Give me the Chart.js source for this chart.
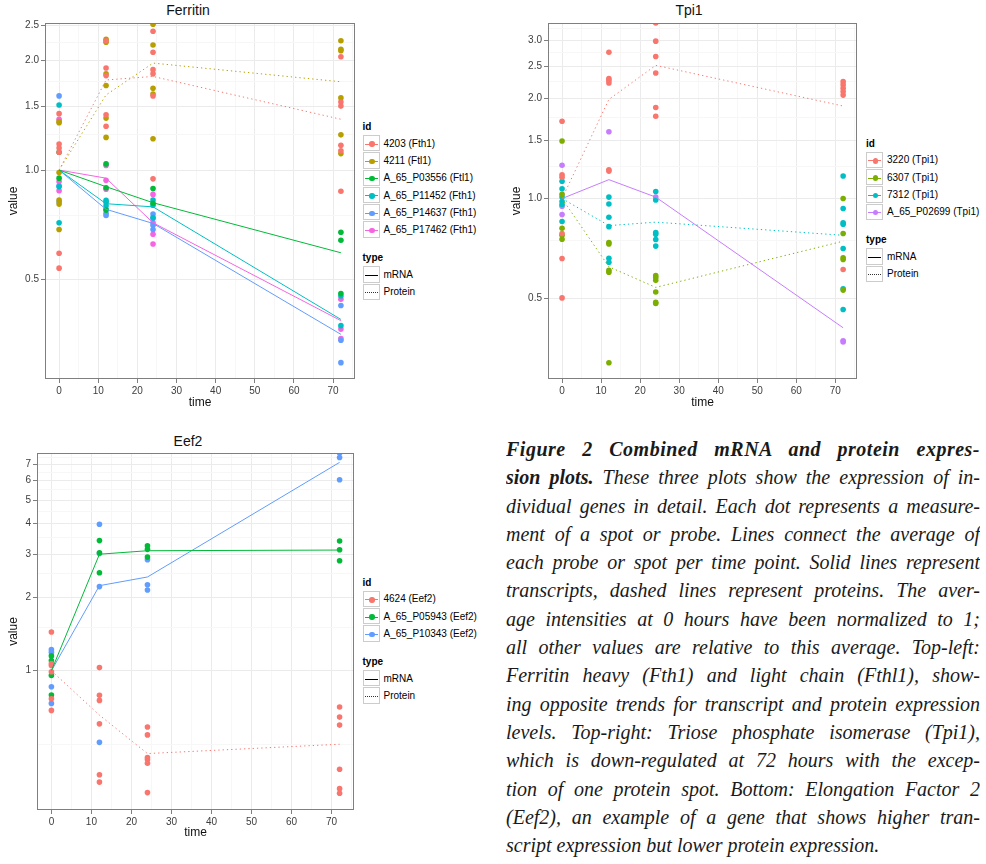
<!DOCTYPE html>
<html>
<head>
<meta charset="utf-8">
<script src="https://cdn.jsdelivr.net/npm/chart.js@4.4.1/dist/chart.umd.min.js"></script>
<style>
  body { margin: 0; background: #fff; width: 986px; height: 864px; position: relative; overflow: hidden; }
  canvas, .ptitle, .legend, .caption { position: absolute; }
  .ptitle { font: normal 14px "Liberation Sans", Arial, sans-serif; color: #111; transform: translateX(-50%); white-space: nowrap; }
  .legend { font: 10px "Liberation Sans", Arial, sans-serif; color: #000; }
  .legend .lt { font-weight: bold; height: 14.7px; line-height: 14.7px; }
  .legend .row { height: 17.3px; display: flex; align-items: center; }
  .legend .gap { height: 12.8px; }
  .legend .key { width: 17px; height: 16.3px; border: 0.5px solid #cccccc; position: relative; margin-right: 4px; box-sizing: border-box; background: #fff; }
  .legend .key .ln { position: absolute; left: 1px; right: 1px; top: 7.6px; height: 0; border-top: 1px solid; }
  .legend .key .dt { position: absolute; left: 5.8px; top: 5.4px; width: 5.4px; height: 5.4px; border-radius: 50%; }
  .caption { left: 506px; top: 435px; width: 474px; font: italic 20px "Liberation Serif", "Times New Roman", serif; color: #1a1a1a; line-height: 28.3px; }
  .caption div { text-align: justify; text-align-last: justify; height: 28.3px; overflow: hidden; }
  .caption div.last { text-align-last: left; }
  .caption div.first { letter-spacing: 0.5px; }
  .caption b { font-weight: bold; }
</style>
</head>
<body>
<div class="ptitle" style="left:188px; top:2px;">Ferritin</div>
<div class="ptitle" style="left:689px; top:2px;">Tpi1</div>
<div class="ptitle" style="left:188px; top:433px;">Eef2</div>
<canvas id="ferritin" width="360" height="410" style="left:0; top:0;"></canvas>
<canvas id="tpi1" width="360" height="410" style="left:500px; top:0;"></canvas>
<canvas id="eef2" width="360" height="410" style="left:0; top:430px;"></canvas>
<div class="legend" id="legFer" style="left:362.5px; top:119.8px;"></div>
<div class="legend" id="legTpi" style="left:866px; top:136.6px;"></div>
<div class="legend" id="legEef" style="left:362.5px; top:575.6px;"></div>

<div class="caption">
  <div class="first"><b>Figure 2 Combined mRNA and protein expres-</b></div>
  <div><b>sion plots.</b> These three plots show the expression of in-</div>
  <div>dividual genes in detail. Each dot represents a measure-</div>
  <div>ment of a spot or probe. Lines connect the average of</div>
  <div>each probe or spot per time point. Solid lines represent</div>
  <div>transcripts, dashed lines represent proteins. The aver-</div>
  <div>age intensities at 0 hours have been normalized to 1;</div>
  <div>all other values are relative to this average. Top-left:</div>
  <div>Ferritin heavy (Fth1) and light chain (Fthl1), show-</div>
  <div>ing opposite trends for transcript and protein expression</div>
  <div>levels. Top-right: Triose phosphate isomerase (Tpi1),</div>
  <div>which is down-regulated at 72 hours with the excep-</div>
  <div>tion of one protein spot. Bottom: Elongation Factor 2</div>
  <div>(Eef2), an example of a gene that shows higher tran-</div>
  <div class="last">script expression but lower protein expression.</div>
</div>

<script>
// time points (hours)
var times = [0, 12, 24, 72];

// ---- Ferritin ----
var ferIds = ['4203 (Fth1)', '4211 (Ftl1)', 'A_65_P03556 (Ftl1)', 'A_65_P11452 (Fth1)', 'A_65_P14637 (Fth1)', 'A_65_P17462 (Fth1)'];
var ferTypes = ['Protein', 'Protein', 'mRNA', 'mRNA', 'mRNA', 'mRNA'];
// measurements per id, one list per time point
var fer4203 = [[1.43, 1.18, 1.15, 1.12, 0.59, 0.537], [2.27, 1.91, 1.82, 1.42, 1.32], [2.41, 2.11, 1.89, 1.84, 1.60, 0.946], [2.05, 1.54, 1.50, 1.17, 1.13, 0.874]];
var fer4211 = [[1.36, 1.35, 0.985, 0.827, 0.806, 0.686], [2.29, 2.25, 1.84, 1.71, 1.39, 1.23], [2.52, 2.21, 1.68, 1.62, 1.22], [2.27, 2.15, 2.13, 1.58, 1.25, 1.11]];
var ferP03556 = [[1.12, 0.95], [1.04, 0.894, 0.776], [0.89, 0.81], [0.674, 0.641, 0.457]];
var ferP11452 = [[1.51, 0.90, 0.716], [0.825, 0.815, 0.797], [0.827, 0.80, 0.74], [0.45, 0.373]];
var ferP14637 = [[1.60, 0.905, 0.818], [0.78, 0.76, 0.75], [0.757, 0.736, 0.705, 0.686], [0.424, 0.34, 0.295]];
var ferP17462 = [[1.38, 0.93, 0.877], [1.03, 0.937, 0.886], [0.857, 0.716, 0.666, 0.626], [0.441, 0.365, 0.344]];
// averages per time point
var ferMean4203 = [1, 1.77, 1.81, 1.38];
var ferMean4211 = [1, 1.61, 1.97, 1.75];
var ferMeanP03556 = [1, 0.90, 0.813, 0.592];
var ferMeanP11452 = [1, 0.808, 0.792, 0.388];
var ferMeanP14637 = [1, 0.78, 0.713, 0.353];
var ferMeanP17462 = [1, 0.95, 0.716, 0.385];
var ferYMajor = [0.5, 1.0, 1.5, 2.0, 2.5];
var ferYMinor = [0.75, 1.25, 1.75, 2.25];

// ---- Tpi1 ----
var tpiIds = ['3220 (Tpi1)', '6307 (Tpi1)', '7312 (Tpi1)', 'A_65_P02699 (Tpi1)'];
var tpiTypes = ['Protein', 'Protein', 'Protein', 'mRNA'];
var tpi3220 = [[1.71, 1.18, 1.16, 0.785, 0.66, 0.502], [2.76, 2.30, 2.27, 2.23, 1.22, 1.21], [3.38, 2.98, 2.68, 2.39, 1.88, 1.77], [2.25, 2.20, 2.15, 2.10, 2.05, 0.611]];
var tpi6307 = [[1.49, 1.03, 0.814, 0.775, 0.754], [0.737, 0.73, 0.608, 0.60, 0.32], [0.586, 0.578, 0.567, 0.523, 0.487, 0.483], [1.0, 0.785, 0.663, 0.655, 0.53]];
var tpi7312 = [[1.127, 1.07, 1.01, 0.98, 0.96, 0.853], [1.01, 0.963, 0.878, 0.823, 0.661, 0.643], [1.05, 0.99, 0.79, 0.78, 0.753, 0.719], [1.17, 0.933, 0.845, 0.837, 0.707, 0.535, 0.463]];
var tpiP02699 = [[1.26, 0.948, 0.895], [1.59], [1.01], [0.373, 0.37]];
var tpiMean3220 = [1, 1.99, 2.52, 1.90];
var tpiMean6307 = [1, 0.623, 0.54, 0.744];
var tpiMean7312 = [1, 0.829, 0.849, 0.775];
var tpiMeanP02699 = [1, 1.14, 1.01, 0.408];
var tpiYMajor = [0.5, 1.0, 1.5, 2.0, 2.5, 3.0];
var tpiYMinor = [0.75, 1.25, 1.75, 2.25, 2.75, 3.25];

// ---- Eef2 ----
var eefIds = ['4624 (Eef2)', 'A_65_P05943 (Eef2)', 'A_65_P10343 (Eef2)'];
var eefTypes = ['Protein', 'mRNA', 'mRNA'];
var eef4624 = [[1.44, 1.07, 1.05, 0.99, 0.768, 0.688], [1.03, 0.793, 0.756, 0.606, 0.375, 0.35], [0.588, 0.546, 0.441, 0.433, 0.418, 0.317], [0.71, 0.646, 0.599, 0.395, 0.329, 0.315]];
var eefP05943 = [[1.15, 1.10, 0.957, 0.795], [3.41, 3.04, 2.52], [3.25, 3.14, 2.92], [3.40, 3.13, 2.82]];
var eefP10343 = [[1.22, 1.19, 0.86, 0.735], [3.98, 3.02, 2.21, 0.509], [2.85, 2.25, 2.14], [7.79, 7.47, 6.05]];
var eefMean4624 = [1, 0.658, 0.458, 0.50];
var eefMeanP05943 = [1, 3.0, 3.10, 3.12];
var eefMeanP10343 = [1, 2.23, 2.42, 7.13];
var eefYMajor = [1, 2, 3, 4, 5, 6, 7];
var eefYMinor = [0.5, 1.5, 2.5, 3.5, 4.5, 5.5, 6.5, 7.5];

var xMajor = [0, 10, 20, 30, 40, 50, 60, 70];
var xMinor = [5, 15, 25, 35, 45, 55, 65, 75];

// ggplot hue palettes
var hue6 = ['#F8766D', '#B79F00', '#00BA38', '#00BFC4', '#619CFF', '#F564E3'];
var hue4 = ['#F8766D', '#7CAE00', '#00BFC4', '#C77CFF'];
var hue3 = ['#F8766D', '#00BA38', '#619CFF'];

var tickFont = { family: 'Liberation Sans, Arial, sans-serif', size: 10 };
var axisFont = { family: 'Liberation Sans, Arial, sans-serif', size: 12 };

var panelBorder = {
  id: 'panelBorder',
  afterDraw: function(chart) {
    var a = chart.chartArea, c = chart.ctx;
    c.save();
    c.strokeStyle = '#7f7f7f';
    c.lineWidth = 1;
    c.strokeRect(Math.round(a.left) + 0.5, Math.round(a.top) + 0.5, Math.round(a.right - a.left) - 1, Math.round(a.bottom - a.top) - 1);
    c.restore();
  }
};

function makePanel(canvasId, p) {
  var datasets = [];
  p.points.forEach(function(series, i) {
    var pts = [];
    series.forEach(function(vals, j) {
      vals.forEach(function(v) { pts.push({ x: times[j], y: v }); });
    });
    datasets.push({
      data: pts, showLine: false, pointRadius: 2.8, pointHoverRadius: 2.8,
      pointBorderWidth: 0, backgroundColor: p.colors[i], borderColor: p.colors[i], order: 2
    });
  });
  p.means.forEach(function(m, i) {
    datasets.push({
      data: m.map(function(v, j) { return { x: times[j], y: v }; }),
      showLine: true, pointRadius: 0, borderWidth: 1, tension: 0, fill: false,
      borderColor: p.colors[i], borderDash: p.types[i] === 'Protein' ? [1.3, 3] : [],
      order: 1
    });
  });

  var yAll = p.yMajor.concat(p.yMinor);
  var xAll = xMajor.concat(xMinor);

  return new Chart(document.getElementById(canvasId), {
    type: 'scatter',
    data: { datasets: datasets },
    plugins: [panelBorder],
    options: {
      responsive: false,
      animation: false,
      devicePixelRatio: 1,
      layout: { padding: { top: p.padTop, right: p.padRight, left: 0, bottom: 0 } },
      plugins: { legend: { display: false }, tooltip: { enabled: false }, title: { display: false } },
      scales: {
        x: {
          type: 'linear', min: -3.6, max: 75.6,
          afterBuildTicks: function(s) { s.ticks = xAll.map(function(v) { return { value: v }; }); },
          afterFit: function(s) { s.height = p.xAxisH; },
          ticks: {
            autoSkip: false, maxRotation: 0, padding: 2, color: '#3d3d3d', font: tickFont,
            callback: function(v) { return xMajor.indexOf(v) >= 0 ? String(v) : ''; }
          },
          grid: {
            lineWidth: 1, tickLength: 4,
            color: function(ctx) { return xMajor.indexOf(ctx.tick.value) >= 0 ? '#ebebeb' : '#f7f7f7'; },
            tickColor: function(ctx) { return xMajor.indexOf(ctx.tick.value) >= 0 ? '#7f7f7f' : 'rgba(0,0,0,0)'; }
          },
          border: { display: false },
          title: { display: true, text: 'time', color: '#111', font: axisFont, padding: { top: 0, bottom: 0 } }
        },
        y: {
          type: 'logarithmic', min: p.yMin, max: p.yMax,
          afterBuildTicks: function(s) { s.ticks = yAll.map(function(v) { return { value: v }; }); },
          afterFit: function(s) { s.width = p.yAxisW; },
          ticks: {
            autoSkip: false, padding: 2, color: '#3d3d3d', font: tickFont,
            callback: function(v) { return p.yMajor.indexOf(v) >= 0 ? p.yFmt(v) : ''; }
          },
          grid: {
            lineWidth: 1, tickLength: 4,
            color: function(ctx) { return p.yMajor.indexOf(ctx.tick.value) >= 0 ? '#ebebeb' : '#f7f7f7'; },
            tickColor: function(ctx) { return p.yMajor.indexOf(ctx.tick.value) >= 0 ? '#7f7f7f' : 'rgba(0,0,0,0)'; }
          },
          border: { display: false },
          title: { display: true, text: 'value', color: '#111', font: axisFont, padding: { top: p.yTitlePad, bottom: 0 } }
        }
      }
    }
  });
}

function makeLegend(elId, ids, colors) {
  var h = '<div class="lt">id</div>';
  ids.forEach(function(id, i) {
    h += '<div class="row"><div class="key"><div class="ln" style="border-top-color:' + colors[i] + '"></div>' +
         '<div class="dt" style="background:' + colors[i] + '"></div></div>' + id + '</div>';
  });
  h += '<div class="gap"></div><div class="lt">type</div>';
  h += '<div class="row"><div class="key"><div class="ln" style="border-top:1px solid #000"></div></div>mRNA</div>';
  h += '<div class="row"><div class="key"><div class="ln" style="border-top:1px dotted #333"></div></div>Protein</div>';
  document.getElementById(elId).innerHTML = h;
}

function fmt1(v) { return v.toFixed(1); }
function fmt0(v) { return String(v); }

makePanel('ferritin', {
  points: [fer4203, fer4211, ferP03556, ferP11452, ferP14637, ferP17462],
  means: [ferMean4203, ferMean4211, ferMeanP03556, ferMeanP11452, ferMeanP14637, ferMeanP17462],
  types: ferTypes, colors: hue6,
  yMin: 0.266, yMax: 2.54, yMajor: ferYMajor, yMinor: ferYMinor, yFmt: fmt1,
  padTop: 23, padRight: 5, yAxisW: 45, xAxisH: 31, yTitlePad: 6
});
makePanel('tpi1', {
  points: [tpi3220, tpi6307, tpi7312, tpiP02699],
  means: [tpiMean3220, tpiMean6307, tpiMean7312, tpiMeanP02699],
  types: tpiTypes, colors: hue4,
  yMin: 0.286, yMax: 3.38, yMajor: tpiYMajor, yMinor: tpiYMinor, yFmt: fmt1,
  padTop: 23, padRight: 2, yAxisW: 48, xAxisH: 31, yTitlePad: 9
});
makePanel('eef2', {
  points: [eef4624, eefP05943, eefP10343],
  means: [eefMean4624, eefMeanP05943, eefMeanP10343],
  types: eefTypes, colors: hue3,
  yMin: 0.269, yMax: 7.79, yMajor: eefYMajor, yMinor: eefYMinor, yFmt: fmt0,
  padTop: 23, padRight: 6, yAxisW: 37, xAxisH: 30, yTitlePad: 6
});

makeLegend('legFer', ferIds, hue6);
makeLegend('legTpi', tpiIds, hue4);
makeLegend('legEef', eefIds, hue3);
</script>
</body>
</html>
